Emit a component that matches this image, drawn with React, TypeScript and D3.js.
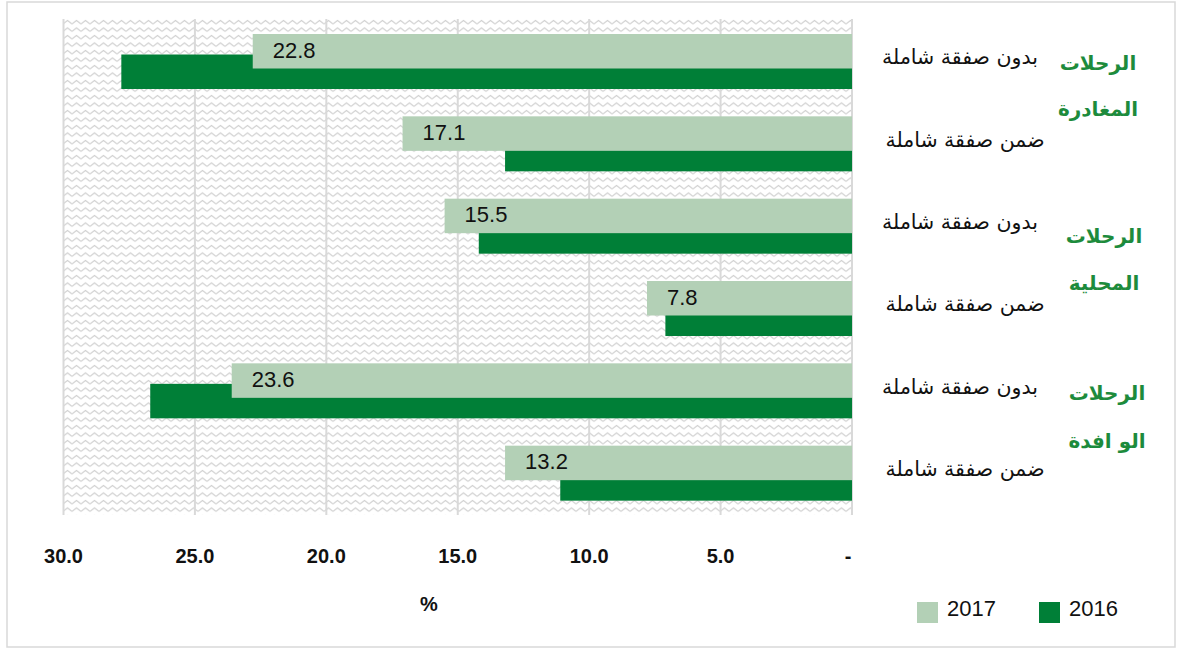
import React from "react";
import * as d3 from "d3";

const subLabels = [
  "بدون صفقة شاملة",
  "ضمن صفقة شاملة",
  "بدون صفقة شاملة",
  "ضمن صفقة شاملة",
  "بدون صفقة شاملة",
  "ضمن صفقة شاملة",
];
const groupLabels = [
  ["الرحلات", "المغادرة"],
  ["الرحلات", "المحلية"],
  ["الرحلات", "الو افدة"],
];
const values2017 = [22.8, 17.1, 15.5, 7.8, 23.6, 13.2];
const values2016 = [27.8, 13.2, 14.2, 7.1, 26.7, 11.1];
const tickValues = [0, 5, 10, 15, 20, 25, 30];
const seriesNames = ["2017", "2016"];
const axisTitle = "%";

const W = 1177;
const H = 650;
const C2017 = "#b3d0b6";
const C2016 = "#007f37";
const GREEN_TEXT = "#1d8b3c";

export default function App() {
  const x = d3.scaleLinear().domain([0, 30]).range([852, 63.5]);
  const idx = d3.range(subLabels.length);
  const y = d3.scaleBand<number>().domain(idx).range([19, 513]).padding(0);
  const bw = y.bandwidth();
  const plotTop = 19;
  const plotBottom = 515;
  const fmt = d3.format(".1f");
  // layout offsets of the two lines of each group title (relative to band tops)
  const line1Off = [51, 59, 52];
  const line2Off = [15, 24, 17];
  const groupCx = [1098, 1104, 1107];

  return (
    <svg
      width={W}
      height={H}
      style={{ position: "absolute", left: 0, top: 0, display: "block", background: "#fff" }}
    >
      <defs>
        <pattern id="zig" patternUnits="userSpaceOnUse" width={8} height={7} x={63} y={19}>
          <path d="M0,5 L2,3 L4,5 L6,3 L8,5" fill="none" stroke="#d2d2d2" strokeWidth={1.2} />
          <path d="M0,5 L4,1.5 L8,5" fill="none" stroke="none" />
        </pattern>
        <pattern id="zig2" patternUnits="userSpaceOnUse" width={9} height={7.5} x={63} y={19}>
          <path d="M0,5 L4.5,1.5 L9,5" fill="none" stroke="#cfcfcf" strokeWidth={1.2} />
        </pattern>
      </defs>
      <rect x={7} y={2} width={1168} height={645} fill="#fff" stroke="#d9d9d9" strokeWidth={1.5} />
      <rect x={x(30)} y={plotTop} width={x(0) - x(30)} height={plotBottom - plotTop} fill="url(#zig2)" />
      {tickValues.map((t) => (
        <line key={"g" + t} x1={x(t)} x2={x(t)} y1={plotTop} y2={plotBottom} stroke="#d9d9d9" strokeWidth={2} />
      ))}
      {idx.map((i) => (
        <rect
          key={"b16" + i}
          x={x(values2016[i])}
          y={(y(i) as number) + 35.5}
          width={x(0) - x(values2016[i])}
          height={34.5}
          fill={C2016}
        />
      ))}
      {idx.map((i) => (
        <rect
          key={"b17" + i}
          x={x(values2017[i])}
          y={(y(i) as number) + 15}
          width={x(0) - x(values2017[i])}
          height={34.5}
          fill={C2017}
        />
      ))}
      {idx.map((i) => (
        <text
          key={"v" + i}
          x={x(values2017[i]) + 20}
          y={(y(i) as number) + 38.5}
          fontFamily="'Liberation Sans', Arial, sans-serif"
          fontSize={22}
          fill="#111"
        >
          {fmt(values2017[i])}
        </text>
      ))}
      {tickValues.map((t) => (
        <text
          key={"t" + t}
          x={t === 0 ? x(t) - 4 : x(t)}
          y={563}
          textAnchor="middle"
          fontFamily="'Liberation Sans', Arial, sans-serif"
          fontWeight="bold"
          fontSize={20}
          fill="#111"
        >
          {t === 0 ? "-" : fmt(t)}
        </text>
      ))}
      <text
        x={429}
        y={611}
        textAnchor="middle"
        fontFamily="'Liberation Sans', Arial, sans-serif"
        fontWeight="bold"
        fontSize={20}
        fill="#111"
      >
        {axisTitle}
      </text>
      {idx.map((i) => (
        <text
          key={"s" + i}
          x={i % 2 === 0 ? 960 : 965}
          y={(y(i) as number) + bw / 2 + 4}
          textAnchor="middle"
          fontFamily="'DejaVu Sans', sans-serif"
          fontSize={20.5}
          fill="#111"
        >
          {subLabels[i]}
        </text>
      ))}
      {groupLabels.map((g, gi) => {
        const t1 = y(gi * 2) as number;
        const t2 = y(gi * 2 + 1) as number;
        const cx = groupCx[gi];
        return (
          <g key={"grp" + gi}>
            <text
              x={cx}
              y={t1 + line1Off[gi]}
              textAnchor="middle"
              fontFamily="'DejaVu Sans', sans-serif"
              fontWeight="bold"
              fontSize={20}
              fill={GREEN_TEXT}
            >
              {g[0]}
            </text>
            <text
              x={cx}
              y={t2 + line2Off[gi]}
              textAnchor="middle"
              fontFamily="'DejaVu Sans', sans-serif"
              fontWeight="bold"
              fontSize={20}
              fill={GREEN_TEXT}
            >
              {g[1]}
            </text>
          </g>
        );
      })}
      {seriesNames.map((s, si) => (
        <g key={"l" + s}>
          <rect x={917 + si * 122} y={602} width={21} height={21} fill={si === 0 ? C2017 : C2016} />
          <text
            x={947 + si * 122}
            y={616}
            fontFamily="'Liberation Sans', Arial, sans-serif"
            fontSize={22}
            fill="#111"
          >
            {s}
          </text>
        </g>
      ))}
    </svg>
  );
}
